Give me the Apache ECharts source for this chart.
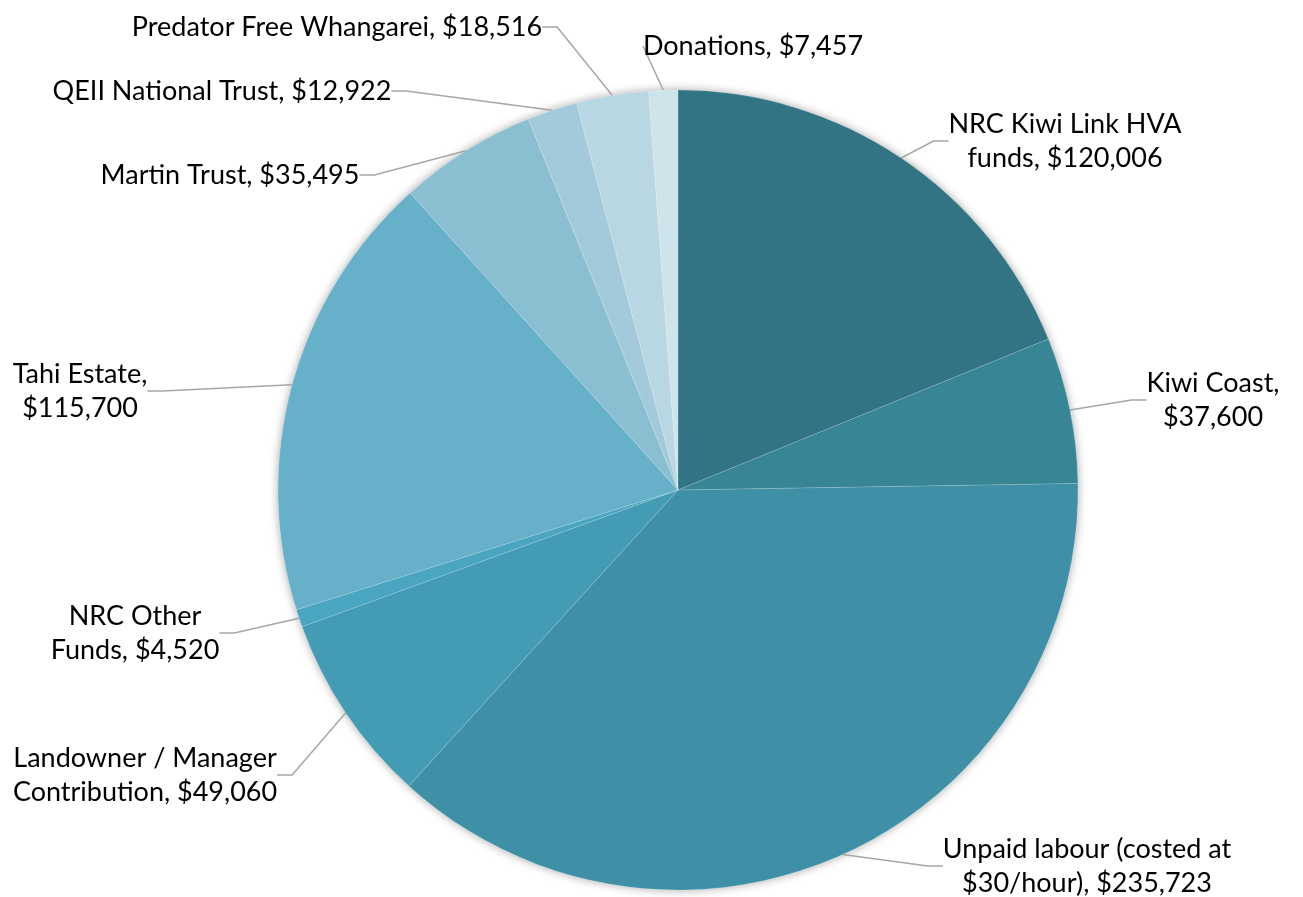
<!DOCTYPE html>
<html lang="en">
<head>
<meta charset="UTF-8">
<title>Funding sources</title>
<script src="https://cdn.jsdelivr.net/npm/echarts@6/dist/echarts.min.js"></script>
<style>
  html, body { margin: 0; padding: 0; background: #fff; }
  #main { width: 1303px; height: 897px; }
</style>
</head>
<body>
<div id="main"></div>
<script>
// data, clockwise from 12 o'clock
var names = ['NRC Kiwi Link HVA\nfunds', 'Kiwi Coast', 'Unpaid labour (costed at\n$30/hour)',
  'Landowner / Manager\nContribution', 'NRC Other\nFunds', 'Tahi Estate', 'Martin Trust',
  'QEII National Trust', 'Predator Free Whangarei', 'Donations'];
var values = [120006, 37600, 235723, 49060, 4520, 115700, 35495, 12922, 18516, 7457];
// text between name and amount
var seps = [', ', ',\n', ', ', ', ', ', ', ',\n', ', ', ', ', ', ', ', '];
var colors = ['#327484', '#388596', '#3f90a7', '#449bb4', '#4aa5c0', '#66b0c9', '#8abfd2',
  '#a2cadb', '#b9d7e3', '#cfe3eb'];
// label centres
var labelPos = [[1065, 141], [1213, 400], [1087, 866], [145, 775], [135, 633], [80, 391],
  [230, 175], [222, 91], [337, 27], [753, 46]];

var chart = echarts.init(document.getElementById('main'));
var data = values.map(function (v, i) {
  return { name: names[i], value: v, itemStyle: { color: colors[i] } };
});

chart.setOption({
  animation: false,
  textStyle: { fontFamily: 'Lato' },
  series: [{
    type: 'pie',
    silent: true,
    center: [678, 490],
    radius: 400,
    z: 1,
    data: [{ value: 1, itemStyle: { color: '#fff', shadowBlur: 10, shadowColor: 'rgba(0,0,0,0.35)' } }],
    label: { show: false },
    labelLine: { show: false }
  }, {
    type: 'pie',
    center: [678, 490],
    radius: 400,
    startAngle: 90,
    z: 2,
    data: data,
    itemStyle: { borderColor: 'rgba(255,255,255,0.25)', borderWidth: 0.5 },
    label: {
      color: '#000',
      fontSize: 27,
      lineHeight: 34,
      align: 'center',
      formatter: function (p) {
        return p.name + seps[p.dataIndex] + '$' + p.value.toLocaleString('en-US');
      }
    },
    labelLine: {
      show: true,
      length: 20,
      length2: 15,
      lineStyle: { color: '#a6a6a6', width: 1.5 }
    },
    labelLayout: function (p) {
      var pos = labelPos[p.dataIndex];
      return { x: pos[0], y: pos[1], align: 'center', verticalAlign: 'middle' };
    }
  }]
});
</script>
</body>
</html>
